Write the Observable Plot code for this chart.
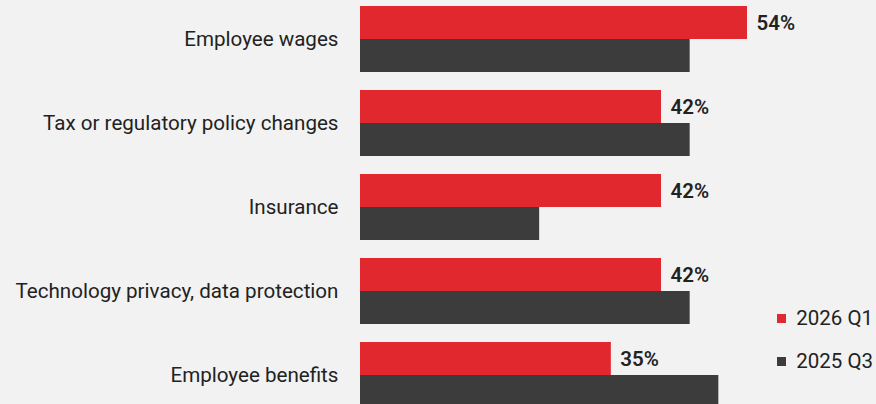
<!DOCTYPE html>
<html>
<head>
<meta charset="utf-8">
<script src="https://cdn.jsdelivr.net/npm/d3@7"></script>
<script src="https://cdn.jsdelivr.net/npm/@observablehq/plot@0.6"></script>
<style>
  html, body { margin: 0; padding: 0; background: #f2f2f2; overflow: hidden; }
  #wrap { position: relative; width: 876px; height: 404px; overflow: hidden; }
  #legend { position: absolute; left: 777px; top: 306px; }
</style>
</head>
<body>
<div id="wrap"><div id="chart"></div><div id="legend"></div></div>
<script>
const categories = [
  "Employee wages",
  "Tax or regulatory policy changes",
  "Insurance",
  "Technology privacy, data protection",
  "Employee benefits"
];
const series = ["2026 Q1", "2025 Q3"];
const values2026Q1 = [54, 42, 42, 42, 35];
const values2025Q3 = [46, 46, 25, 46, 50];
const colors = ["#e2282f", "#3c3c3c"];

const data = categories.flatMap((c, i) => [
  {category: c, series: series[0], value: values2026Q1[i]},
  {category: c, series: series[1], value: values2025Q3[i]}
]);

const chart = Plot.plot({
  width: 876,
  height: 404,
  marginLeft: 360,
  marginRight: 0,
  marginTop: 4,
  marginBottom: 0,
  style: {background: "#f2f2f2", fontFamily: "Roboto, sans-serif", fontSize: "20.6px", color: "#222"},
  x: {domain: [0, 72], axis: null},
  y: {domain: series, axis: null, padding: 0},
  fy: {domain: categories, range: [4, 409], paddingInner: 0.2, paddingOuter: 0, axis: "left", label: null, tickSize: 0, tickPadding: 22},
  color: {domain: series, range: colors},
  marks: [
    Plot.barX(data, {x: "value", y: "series", fy: "category", fill: "series"}),
    Plot.text(data.filter(d => d.series === series[0]), {
      x: "value", y: "series", fy: "category",
      text: d => d.value + "%", dx: 9, textAnchor: "start",
      fontWeight: 600, fontSize: 20.5, fill: "#222"
    })
  ]
});
document.getElementById("chart").appendChild(chart);

const legend = Plot.legend({
  color: {domain: series, range: colors},
  legend: "swatches",
  swatchSize: 9,
  style: {fontFamily: "Roboto, sans-serif", fontSize: "20.5px", color: "#222", background: "transparent"}
});
legend.style.margin = "0";
legend.style.minHeight = "0";
legend.style.display = "flex";
legend.style.flexDirection = "column";
legend.style.alignItems = "flex-start";
legend.style.rowGap = "19px";
legend.style.whiteSpace = "nowrap";
document.getElementById("legend").appendChild(legend);
</script>
</body>
</html>
